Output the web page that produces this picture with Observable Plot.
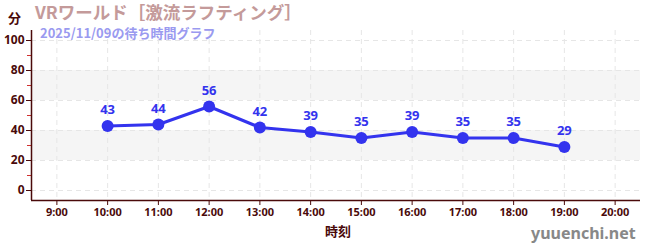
<!DOCTYPE html>
<html><head><meta charset="utf-8">
<script src="https://cdn.jsdelivr.net/npm/d3@7"></script>
<script src="https://cdn.jsdelivr.net/npm/@observablehq/plot@0.6"></script>
<style>
body{margin:0;background:#fff;font-family:"Noto Sans CJK JP","Noto Sans",sans-serif;}
#wrap{position:relative;width:650px;height:250px;}
.t{position:absolute;white-space:nowrap;font-weight:bold;line-height:1;}
</style></head><body>
<div id="wrap">
<div id="chart"></div>
<div class="t" style="left:8px;top:11px;font-size:13px;color:#4a0a0a;">分</div>
<div class="t" style="left:35px;top:3px;font-size:17.5px;color:#c49a9a;">VRワールド［激流ラフティング］</div>
<div class="t" style="left:40px;top:26px;font-size:13px;color:#9a9af0;">2025/11/09の待ち時間グラフ</div>
<div class="t" style="left:325px;top:224px;font-size:13px;color:#4a0a0a;">時刻</div>
<div class="t" style="left:531px;top:225px;font-size:16px;color:#888;font-family:'Noto Sans','DejaVu Sans',sans-serif;">yuuenchi.net</div>
</div>
<script>
const hours = [10, 11, 12, 13, 14, 15, 16, 17, 18, 19];
const waits = [43, 44, 56, 42, 39, 35, 39, 35, 35, 29];
const xTicks = [9, 10, 11, 12, 13, 14, 15, 16, 17, 18, 19, 20];
const yTicks = [0, 20, 40, 60, 80, 100];
const yMinor = [10, 30, 50, 70, 90];
const bandLo = [20, 60];
const bandHi = [40, 80];

const data = hours.map((h, i) => ({h, w: waits[i]}));
const bands = bandLo.map((lo, i) => ({lo, hi: bandHi[i]}));
const dark = "#4a0a0a";
const blue = "#3333ee";

const chart = Plot.plot({
  width: 650, height: 250,
  marginLeft: 31, marginRight: 10, marginTop: 30, marginBottom: 50,
  style: {fontFamily: "'Noto Sans','DejaVu Sans',sans-serif", fontSize: "11px", overflow: "visible"},
  x: {type: "linear", domain: [8.5, 20.5], axis: null},
  y: {type: "linear", domain: [-20/3, 320/3], axis: null},
  marks: [
    Plot.rect(bands, {x1: () => 8.5, x2: () => 20.5, y1: "lo", y2: "hi", fill: "#f5f5f5"}),
    Plot.ruleY(yTicks, {stroke: "#e6e6e6", strokeDasharray: "5,4"}),
    Plot.ruleX(xTicks, {stroke: "#e6e6e6", strokeDasharray: "5,4"}),
    Plot.axisY(yMinor, {tickSize: 4, stroke: "#d03030", tickFormat: () => "", label: null}),
    Plot.axisY(yTicks, {tickSize: 5, stroke: dark, fill: dark, fontWeight: "bold", fontSize: 12, tickPadding: 2, label: null}),
    Plot.axisX(xTicks, {tickSize: 5, stroke: dark, fill: dark, fontWeight: "bold", fontSize: 11, tickFormat: d => d + ":00", label: null, tickPadding: 3}),
    Plot.ruleX([8.5], {y1: -20/3, y2: 320/3, stroke: dark, strokeWidth: 1.5}),
    Plot.ruleY([-20/3], {stroke: dark, strokeWidth: 1.5}),
    Plot.line(data, {x: "h", y: "w", stroke: blue, strokeWidth: 3}),
    Plot.dot(data, {x: "h", y: "w", fill: blue, r: 6}),
    Plot.text(data, {x: "h", y: "w", text: d => String(d.w), dy: -16, fill: blue, fontWeight: "bold", fontSize: 13})
  ]
});
document.getElementById("chart").appendChild(chart);
</script>
</body></html>
